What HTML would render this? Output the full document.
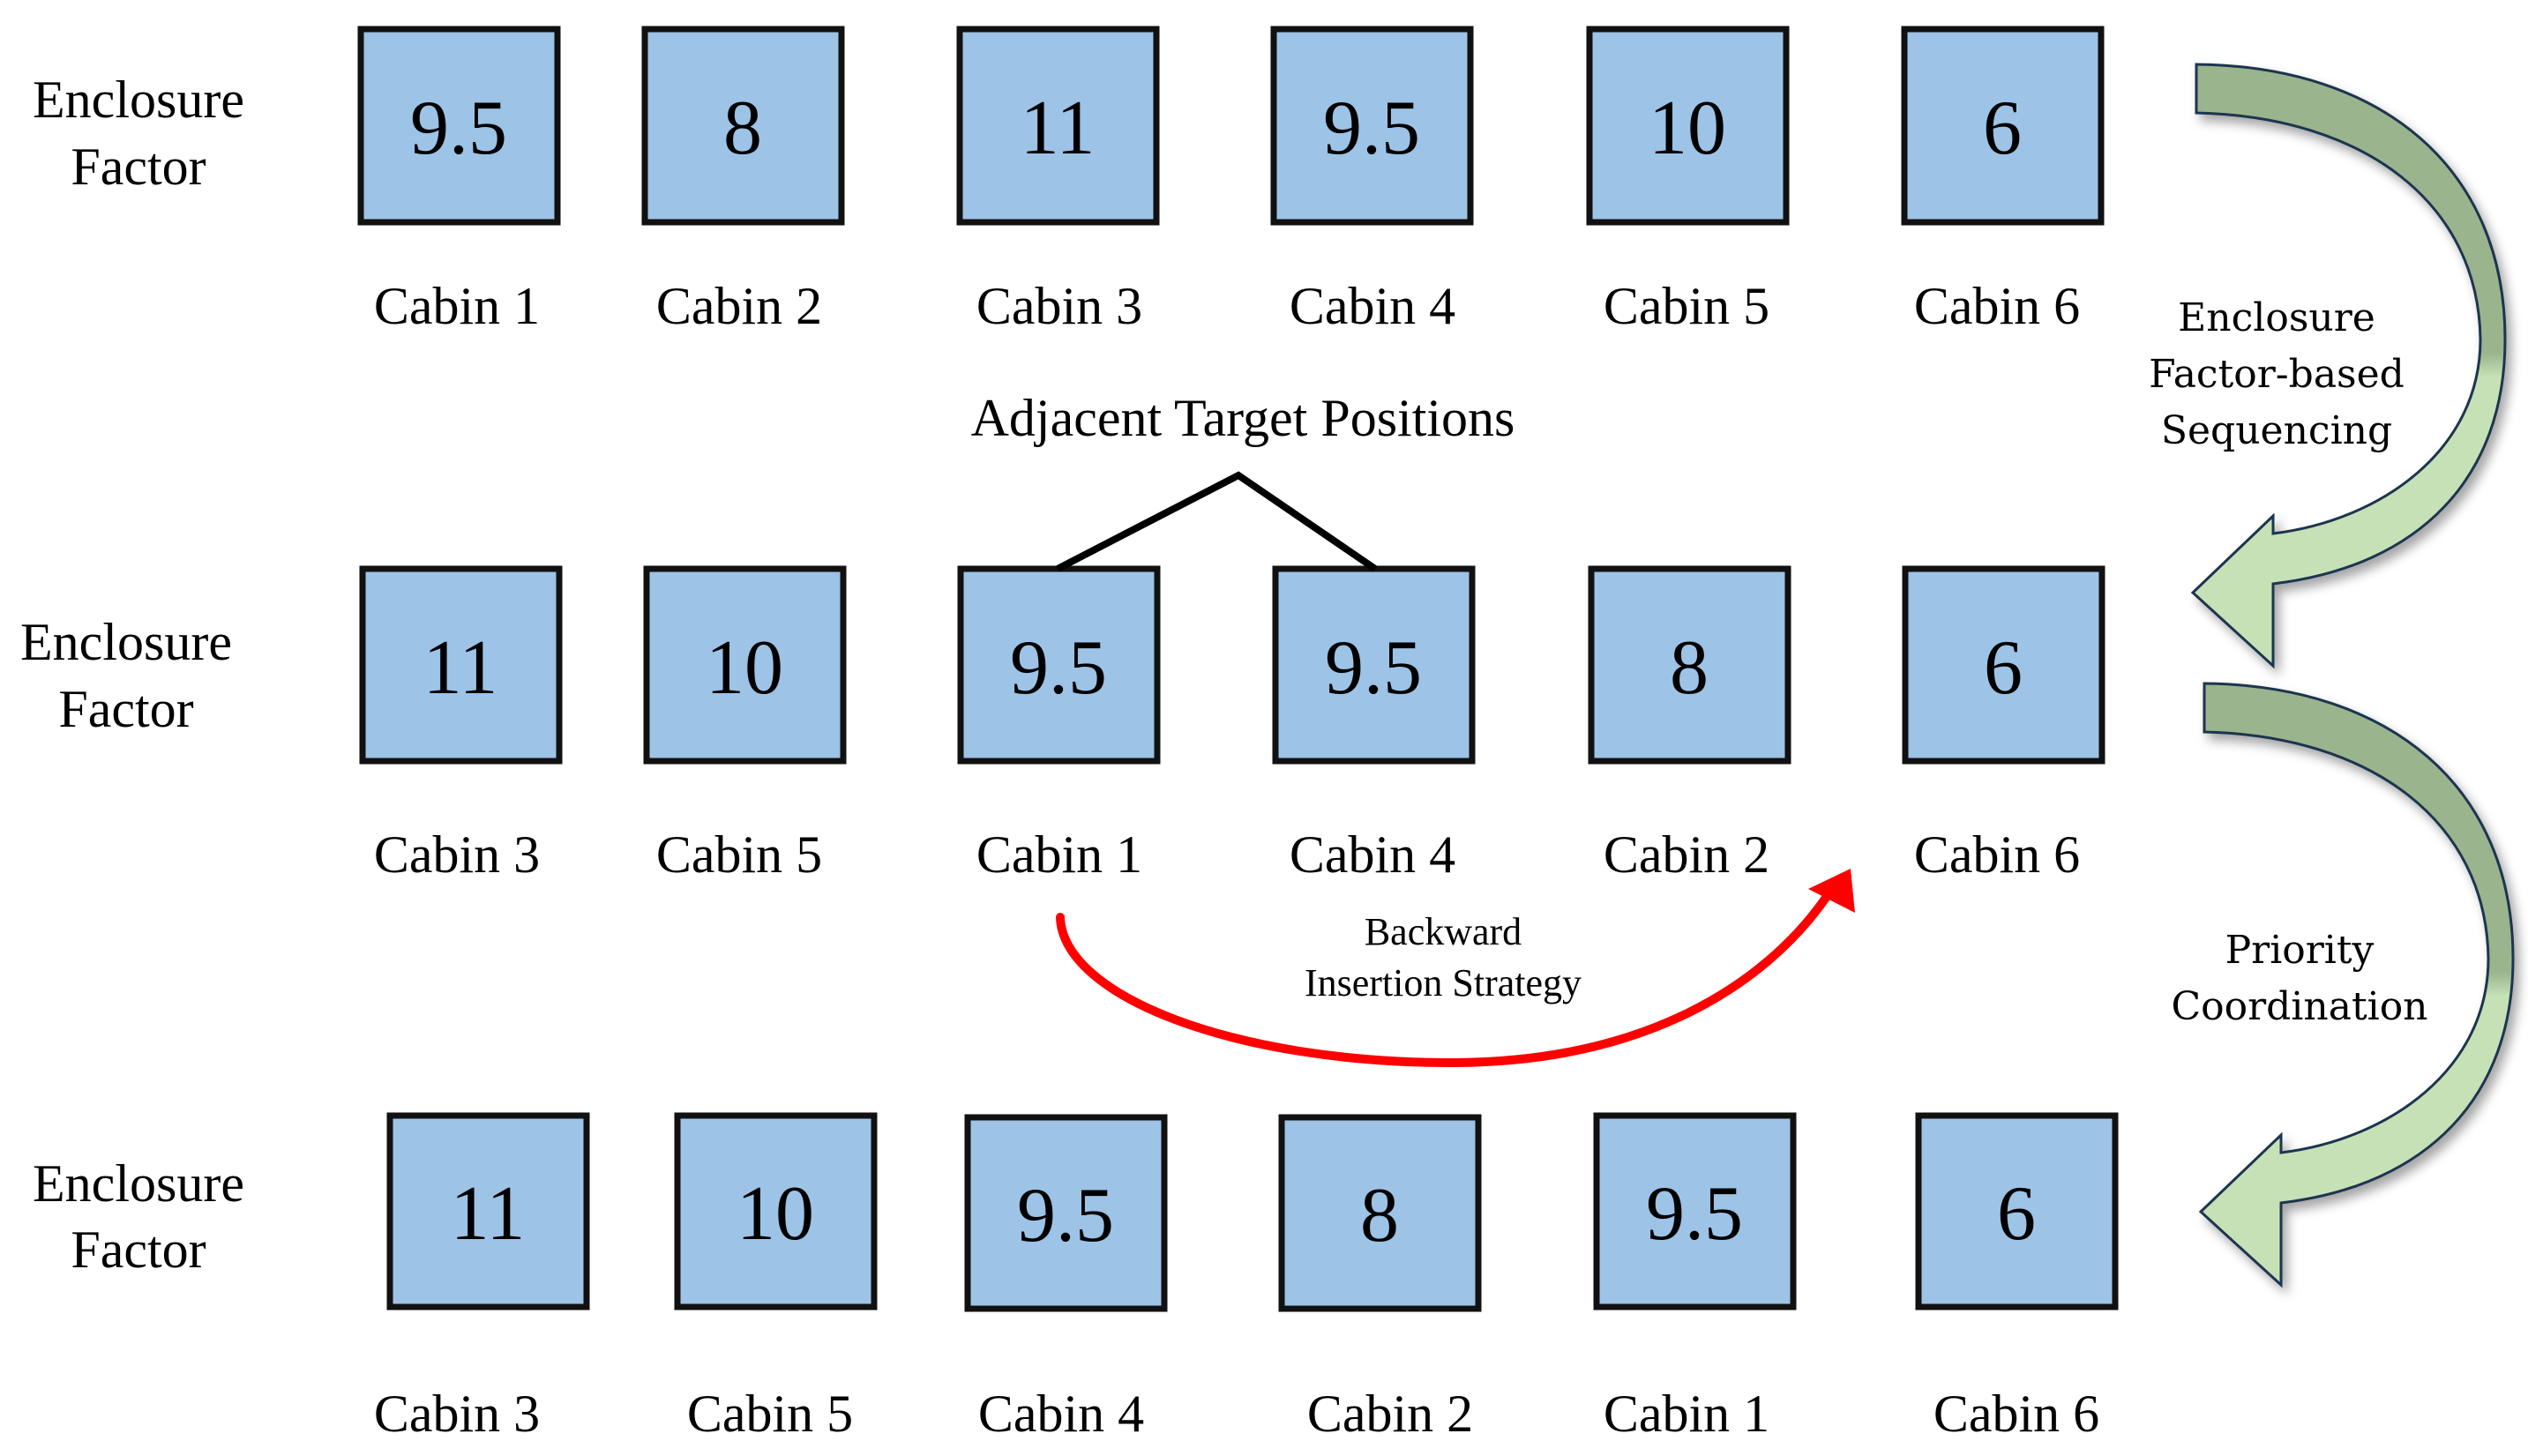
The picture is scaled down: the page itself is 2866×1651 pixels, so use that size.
<!DOCTYPE html>
<html><head><meta charset="utf-8"><style>
html,body{margin:0;padding:0;background:#fff;}
svg{display:block;}
text{font-family:"Liberation Serif",serif;fill:#000;}
</style></head><body>
<svg width="2866" height="1651" viewBox="0 0 2866 1651" xmlns="http://www.w3.org/2000/svg">
<defs>
<linearGradient id="g1" x1="0" y1="0" x2="0" y2="1">
<stop offset="0" stop-color="#9ab48d"/><stop offset="0.48" stop-color="#9ab48d"/>
<stop offset="0.52" stop-color="#c6e1b6"/><stop offset="1" stop-color="#c6e1b6"/>
</linearGradient>
<filter id="sh" x="-20%" y="-20%" width="140%" height="140%"><feDropShadow dx="6" dy="8" stdDeviation="6" flood-color="#000" flood-opacity="0.35"/></filter>
</defs>
<g fill="#9dc3e6" stroke="#111" stroke-width="7">
<rect x="409" y="33" width="223" height="219"/><rect x="731" y="33" width="223" height="219"/>
<rect x="1088" y="33" width="223" height="219"/><rect x="1444" y="33" width="223" height="219"/>
<rect x="1802" y="33" width="223" height="219"/><rect x="2159" y="33" width="223" height="219"/>
<rect x="411" y="645" width="223" height="218"/><rect x="733" y="645" width="223" height="218"/>
<rect x="1089" y="645" width="223" height="218"/><rect x="1446" y="645" width="223" height="218"/>
<rect x="1804" y="645" width="223" height="218"/><rect x="2160" y="645" width="223" height="218"/>
<rect x="442" y="1265" width="223" height="217"/><rect x="768" y="1265" width="223" height="217"/>
<rect x="1097" y="1267" width="223" height="217"/><rect x="1453" y="1267" width="223" height="217"/>
<rect x="1810" y="1265" width="223" height="217"/><rect x="2175" y="1265" width="223" height="217"/>
</g>
<g font-size="88" text-anchor="middle">
<text x="520" y="174">9.5</text><text x="842" y="174">8</text><text x="1199" y="174">11</text>
<text x="1555" y="174">9.5</text><text x="1913" y="174">10</text><text x="2270" y="174">6</text>
<text x="522" y="786">11</text><text x="844" y="786">10</text><text x="1200" y="786">9.5</text>
<text x="1557" y="786">9.5</text><text x="1915" y="786">8</text><text x="2271" y="786">6</text>
<text x="553" y="1405">11</text><text x="879" y="1405">10</text><text x="1208" y="1407">9.5</text>
<text x="1564" y="1407">8</text><text x="1921" y="1405">9.5</text><text x="2286" y="1405">6</text>
</g>
<g font-size="60" text-anchor="middle">
<text x="518" y="367">Cabin 1</text><text x="838" y="367">Cabin 2</text><text x="1201" y="367">Cabin 3</text>
<text x="1556" y="367">Cabin 4</text><text x="1912" y="367">Cabin 5</text><text x="2264" y="367">Cabin 6</text>
<text x="518" y="989">Cabin 3</text><text x="838" y="989">Cabin 5</text><text x="1201" y="989">Cabin 1</text>
<text x="1556" y="989">Cabin 4</text><text x="1912" y="989">Cabin 2</text><text x="2264" y="989">Cabin 6</text>
<text x="518" y="1623">Cabin 3</text><text x="873" y="1623">Cabin 5</text><text x="1203" y="1623">Cabin 4</text>
<text x="1576" y="1623">Cabin 2</text><text x="1912" y="1623">Cabin 1</text><text x="2286" y="1623">Cabin 6</text>
<text x="157" y="133">Enclosure</text><text x="157" y="209">Factor</text>
<text x="143" y="748">Enclosure</text><text x="143" y="824">Factor</text>
<text x="157" y="1362">Enclosure</text><text x="157" y="1437">Factor</text>
<text x="1409" y="494">Adjacent Target Positions</text>
</g>
<polyline points="1199,645 1404,539 1559,645" fill="none" stroke="#000" stroke-width="8"/>
<path d="M1202,1040 C1205,1130 1400,1205 1645,1205 C1860,1205 2000,1120 2072,1015" fill="none" stroke="#f00" stroke-width="10" stroke-linecap="round"/>
<polygon points="2098,985 2103,1035 2050,1008" fill="#f00"/>
<g font-size="44" text-anchor="middle">
<text x="1636" y="1071">Backward</text><text x="1636" y="1129">Insertion Strategy</text>
</g>
<g font-family="'DejaVu Serif',serif" font-size="44" text-anchor="middle">
<text x="2581" y="375" style="font-family:'DejaVu Serif',serif">Enclosure</text>
<text x="2581" y="439" style="font-family:'DejaVu Serif',serif">Factor-based</text>
<text x="2581" y="503" style="font-family:'DejaVu Serif',serif">Sequencing</text>
<text x="2607" y="1092" style="font-family:'DejaVu Serif',serif">Priority</text>
<text x="2607" y="1156" style="font-family:'DejaVu Serif',serif">Coordination</text>
</g>
<g filter="url(#sh)" fill="url(#g1)" stroke="#1f3550" stroke-width="3">
<path d="M2490,73 L2490,128 C2680,132 2810,230 2812,385 C2812,510 2700,590 2577,605 L2577,585 L2486,672 L2577,755 L2577,662 C2745,642 2840,540 2840,385 C2840,190 2700,75 2490,73 Z"/>
<path transform="translate(9,702)" d="M2490,73 L2490,128 C2680,132 2810,230 2812,385 C2812,510 2700,590 2577,605 L2577,585 L2486,672 L2577,755 L2577,662 C2745,642 2840,540 2840,385 C2840,190 2700,75 2490,73 Z"/>
</g>
</svg>
</body></html>
